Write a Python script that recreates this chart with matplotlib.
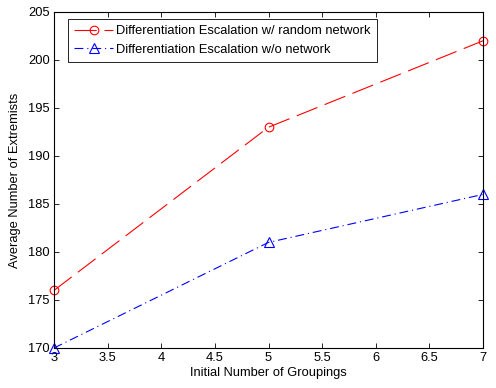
import matplotlib
matplotlib.use("Agg")
import matplotlib.pyplot as plt

plt.rcParams['font.family'] = ['Liberation Sans', 'DejaVu Sans']

groupings = [3, 5, 7]
with_network = [176, 193, 202]
without_network = [170, 181, 186]
label_net = "Differentiation Escalation w/ random network"
label_nonet = "Differentiation Escalation w/o network"

fig = plt.figure(figsize=(4.96, 3.88), dpi=100)
ax = fig.add_axes([54/496, 40/388, 429/496, 336/388])

ax.plot(groupings, with_network, color='red', linestyle=(0, (20, 7)), linewidth=0.8,
        marker='o', markersize=6.2, markerfacecolor='none', markeredgecolor='red',
        markeredgewidth=0.8, label=label_net, clip_on=False)
ax.plot(groupings, without_network, color='blue', linestyle=(0, (8, 3.5, 1, 3.5)), linewidth=0.8,
        marker='^', markersize=7, markerfacecolor='none', markeredgecolor='blue',
        markeredgewidth=0.8, label=label_nonet, clip_on=False)

ax.set_xlim(3, 7)
ax.set_ylim(170, 205)
ax.set_xticks([3, 3.5, 4, 4.5, 5, 5.5, 6, 6.5, 7])
ax.set_xticklabels(['3', '3.5', '4', '4.5', '5', '5.5', '6', '6.5', '7'])
ax.set_yticks([170, 175, 180, 185, 190, 195, 200, 205])
ax.tick_params(direction='in', top=True, right=True, labelsize=9.3, length=3.6, width=0.6, pad=3)
for s in ax.spines.values():
    s.set_linewidth(0.8)

ax.set_xlabel("Initial Number of Groupings", fontsize=9.3, labelpad=2)
ax.set_ylabel("Average Number of Extremists", fontsize=9.3, labelpad=5)

leg = ax.legend(loc='upper left', bbox_to_anchor=(14/429, 1 - 7/336), fontsize=9.3,
                frameon=True, fancybox=False, edgecolor='black', framealpha=1,
                borderaxespad=0, handlelength=3.0, handletextpad=0.25,
                borderpad=0.5, labelspacing=0.5)
leg.get_frame().set_linewidth(0.6)

fig.savefig("out.png", dpi=100)
